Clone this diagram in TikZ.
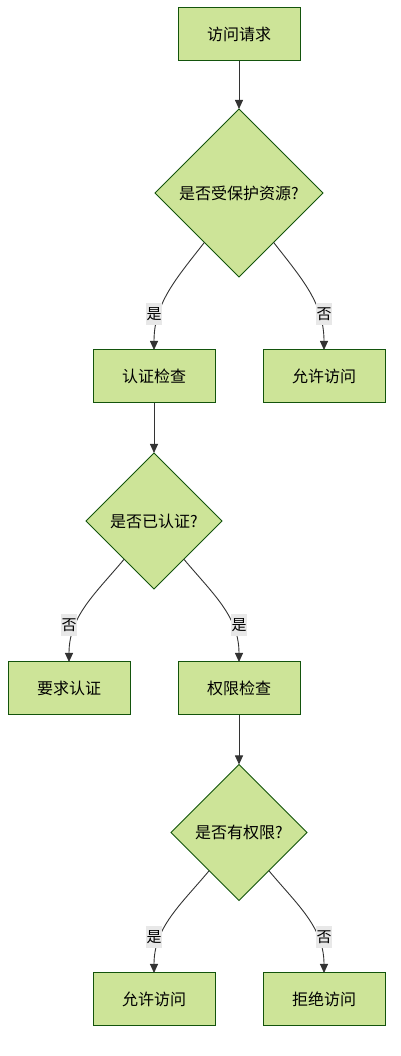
\documentclass[tikz,border=0pt]{standalone}
\usepackage{fontspec}
\usepackage{tikz}
\usetikzlibrary{shapes.geometric,arrows.meta}
\newfontfamily\cjk{Noto Sans CJK SC}
\definecolor{boxfill}{HTML}{CDE498}
\definecolor{boxline}{HTML}{13540C}
\definecolor{lblfill}{HTML}{E8E8E8}
\definecolor{edgeline}{HTML}{333333}

\begin{document}
\begin{tikzpicture}[x=1pt,y=1pt,
  every node/.style={font=\cjk\fontsize{16}{19}\selectfont},
  proc/.style={rectangle,draw=boxline,fill=boxfill,line width=1pt,minimum width=122pt,minimum height=53pt,inner sep=0pt,outer sep=0pt},
  cond/.style={diamond,draw=boxline,fill=boxfill,line width=0.8pt,aspect=1,inner sep=0pt,outer sep=0pt},
  lbl/.style={fill=lblfill,inner sep=0.5pt,minimum height=22pt,minimum width=16pt,font=\cjk\fontsize{15}{18}\selectfont},
  flow/.style={color=edgeline,line width=0.9pt,-{Stealth[length=9pt,width=8pt,inset=0pt]}}]
  \useasboundingbox (0,0) rectangle (401,1056);

  \node[proc] (req) at (239,1021.5) {访问请求};
  \node[cond,minimum width=168pt,minimum height=168pt] (prot) at (239,863) {是否受保护资源?};
  \node[proc] (auth) at (154,679.5) {认证检查};
  \node[proc] (allow1) at (324,679.5) {允许访问};
  \node[cond,minimum width=136pt,minimum height=136pt] (isauth) at (154,535) {是否已认证?};
  \node[proc] (login) at (69,367.5) {要求认证};
  \node[proc] (perm) at (239,367.5) {权限检查};
  \node[cond,minimum width=136pt,minimum height=136pt] (hasperm) at (239,223.5) {是否有权限?};
  \node[proc] (allow2) at (154,56.5) {允许访问};
  \node[proc] (deny) at (324,56.5) {拒绝访问};

  \path[flow]
    (req) edge (prot)
    (auth) edge (isauth)
    (perm) edge (hasperm)
    (prot.235) edge[out=232,in=90] (auth)
    (prot.305) edge[out=-52,in=90] (allow1)
    (isauth.232) edge[out=230,in=90] (login)
    (isauth.308) edge[out=-50,in=90] (perm)
    (hasperm.232) edge[out=230,in=90] (allow2)
    (hasperm.308) edge[out=-50,in=90] (deny);

  \node[lbl] (y1) at (154,742) {是};
  \node[lbl] (n1) at (324,742) {否};
  \node[lbl] (n2) at (69,430.5) {否};
  \node[lbl] (y2) at (239,430.5) {是};
  \node[lbl] (y3) at (154,119) {是};
  \node[lbl] (n3) at (324,119) {否};
\end{tikzpicture}
\end{document}
